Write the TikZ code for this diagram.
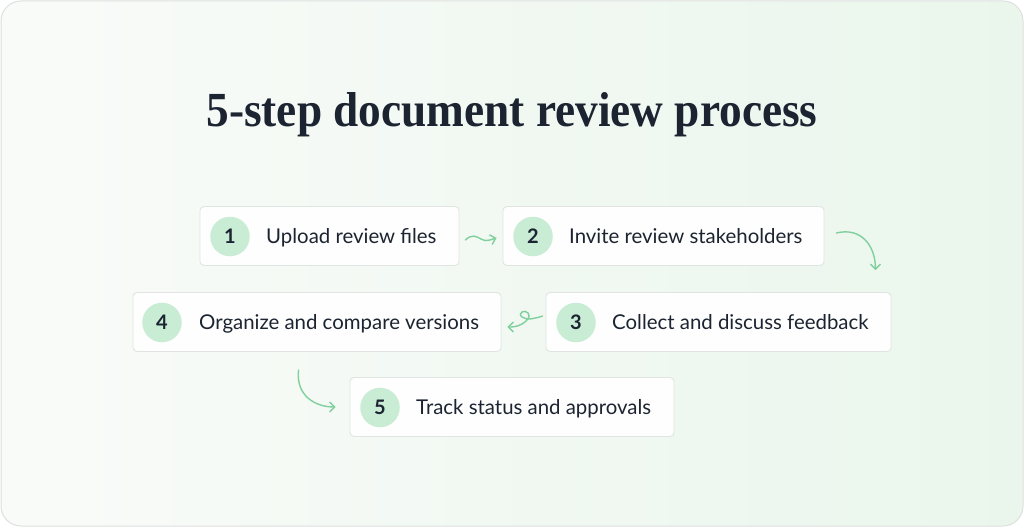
\documentclass[tikz,border=0pt]{standalone}
\usepackage{fontspec}
\usetikzlibrary{arrows.meta,calc}
\newfontfamily\latof{Lato}
\newfontfamily\titlef{Liberation Serif}
\definecolor{cardline}{HTML}{DDE0DE}
\definecolor{bgleft}{HTML}{F9FBF9}
\definecolor{bgright}{HTML}{EAF6EC}
\definecolor{boxline}{HTML}{E1E5E2}
\definecolor{boxfill}{HTML}{FDFEFD}
\definecolor{circfill}{HTML}{C9ECD5}
\definecolor{inkdark}{HTML}{1C2431}
\definecolor{arrowgreen}{HTML}{7FD09D}
\tikzset{
  stepbox/.style={draw=boxline, fill=boxfill, line width=0.9pt, rounded corners=4pt, minimum height=59pt, inner sep=0pt},
  numcirc/.style={circle, fill=circfill, minimum size=39.5pt, inner sep=0pt, text=inkdark, font=\latof\bfseries\fontsize{20}{22}\selectfont},
  steptext/.style={anchor=mid west, inner sep=0pt, text=inkdark, font=\latof\fontsize{20.4}{24}\selectfont},
  flow/.style={draw=arrowgreen, line width=1.4pt, line cap=round, -{Straight Barb[length=5pt,width=10pt,line width=1.4pt]}}
}
\begin{document}
\begin{tikzpicture}[x=1pt,y=-1pt]
\useasboundingbox (0,0) rectangle (1024,527);
\shade[left color=bgleft, right color=bgright, rounded corners=20pt] (1,1) rectangle (1023,526);
\draw[cardline, line width=1pt, rounded corners=20pt] (1,1) rectangle (1023,526);

\node (title) at (512,115) {\resizebox{611pt}{34pt}{\titlef\bfseries\color{inkdark}5-step document review process}};

% boxes
\node[stepbox, minimum width=259pt] (b1) at (329.5,236) {};
\node[stepbox, minimum width=321pt] (b2) at (663.5,236) {};
\node[stepbox, minimum width=345pt] (b3) at (718.5,322) {};
\node[stepbox, minimum width=368pt] (b4) at (317,322) {};
\node[stepbox, minimum width=324pt] (b5) at (512,407) {};

% circles
\node[numcirc] (c1) at (230,236.5) {1};
\node[numcirc] (c2) at (533,236.5) {2};
\node[numcirc] (c3) at (576,322.5) {3};
\node[numcirc] (c4) at (162,322.5) {4};
\node[numcirc] (c5) at (380,407.5) {5};

% labels
\node[steptext] (t1) at (266,241) {Upload review files};
\node[steptext] (t2) at (569,241) {Invite review stakeholders};
\node[steptext] (t3) at (612,327) {Collect and discuss feedback};
\node[steptext] (t4) at (199,327) {Organize and compare versions};
\node[steptext] (t5) at (416,412) {Track status and approvals};

% connectors
\coordinate (a1s) at ($(b1.east)+(6,4)$);
\coordinate (a1e) at ($(b2.west)+(-6,2)$);
\draw[flow] (a1s) .. controls ++(6,-6) and ++(-5,-3) .. ($(a1s)!0.5!(a1e)$) .. controls ++(5,3) and ++(-7,2) .. (a1e);

\coordinate (a2s) at ($(b2.east)+(12,-3)$);
\coordinate (a2e) at ($(b3.north east)+(-16,-22)$);
\draw[flow] (a2s) .. controls ++(24,-6) and ++(0,-25) .. (a2e);

\coordinate (a3s) at ($(b3.west)+(-3,-6)$);
\coordinate (a3e) at ($(b4.east)+(6,5)$);
\draw[flow] (a3s) .. controls ++(-6,2) and ++(5,4) .. (522,317) .. controls ++(-5,-4) and ++(-3,-4) .. (528,313) .. controls ++(3,4) and ++(5,-3) .. (522,324) .. controls ++(-5,3) and ++(4,0) .. (a3e);

\coordinate (a4s) at ($(b4.south west)+(166,18)$);
\coordinate (a4e) at ($(b5.west)+(-14,0)$);
\draw[flow] (a4s) .. controls ++(-3,26) and ++(-20,0) .. (a4e);
\end{tikzpicture}
\end{document}
